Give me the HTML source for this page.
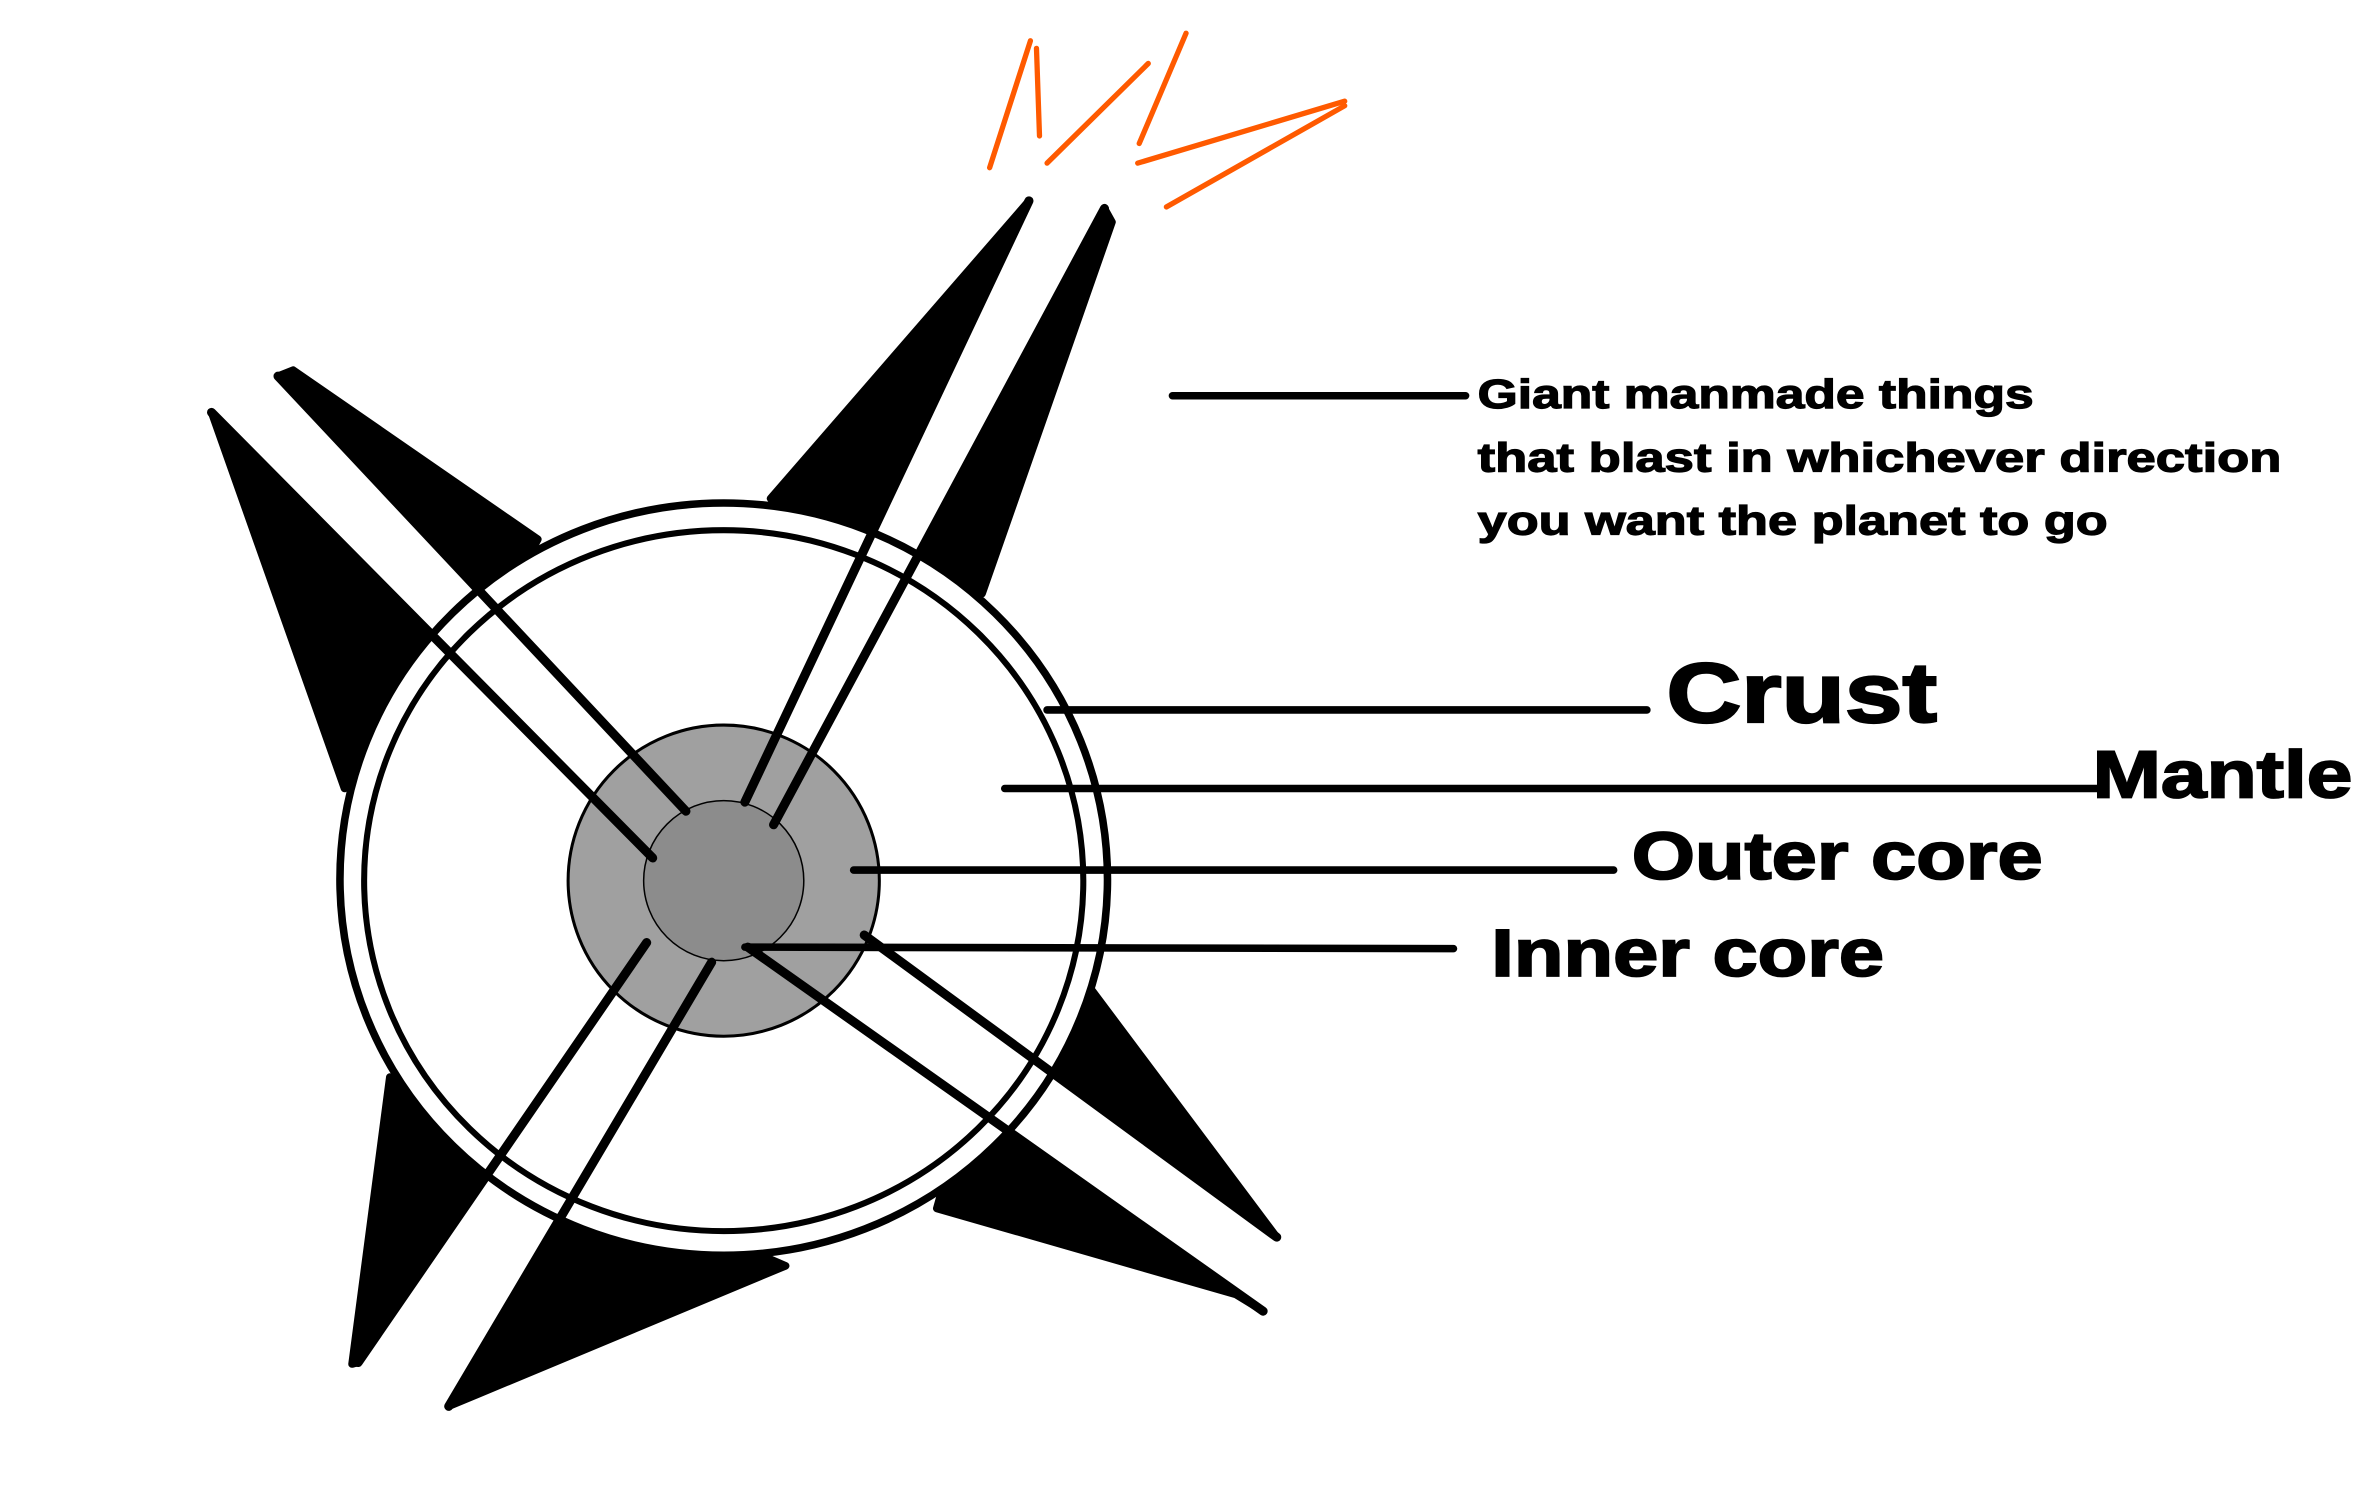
<!DOCTYPE html>
<html><head><meta charset="utf-8"><style>
html,body{margin:0;padding:0;background:#fff;}
svg{display:block;}
text{font-family:"Liberation Sans",sans-serif;font-weight:bold;fill:#000;stroke:#000;}
</style></head><body>
<svg width="2357" height="1503" viewBox="0 0 1560 995" preserveAspectRatio="none" xmlns="http://www.w3.org/2000/svg">
<rect width="1560" height="995" fill="#fff"/>
<g stroke="#ff5a00" stroke-width="3.5" stroke-linecap="round" fill="none">
<line x1="655" y1="111" x2="682" y2="27"/>
<line x1="686" y1="32" x2="688" y2="90"/>
<line x1="693" y1="108" x2="760" y2="42"/>
<line x1="754" y1="95" x2="785" y2="22"/>
<line x1="753" y1="108" x2="890" y2="67"/>
<line x1="890" y1="70" x2="772" y2="137"/>
</g>
<g fill="#000" stroke="#000" stroke-width="5" stroke-linejoin="round" stroke-linecap="round">
<polygon points="510,330 681,133 555,400"/>
<polygon points="731,138 736,147 650,393 580,420"/>
<polygon points="140,273 228,522 300,435"/>
<polygon points="184,249 194,245 356,357 330,405"/>
<polygon points="258,713 233,903 237,902 345,745"/>
<polygon points="297,931 520,838 386,780"/>
<polygon points="720,652 845,819 690,705"/>
<polygon points="620,800 818,857 836,868 640,729"/>
</g>
<ellipse cx="479" cy="582" rx="254" ry="249" fill="#fff" stroke="#000" stroke-width="5"/>
<ellipse cx="479" cy="583" rx="238" ry="232" fill="#fff" stroke="#000" stroke-width="4"/>
<circle cx="479" cy="583" r="103" fill="#a0a0a0" stroke="#000" stroke-width="2"/>
<circle cx="479" cy="583" r="53" fill="#8c8c8c" stroke="#000" stroke-width="1"/>
<g stroke="#000" stroke-width="6" stroke-linecap="round">
<line x1="681" y1="133" x2="493" y2="531"/>
<line x1="731" y1="138" x2="512" y2="546"/>
<line x1="140" y1="273" x2="432" y2="568"/>
<line x1="184" y1="249" x2="454" y2="537"/>
<line x1="428" y1="624" x2="237" y2="902"/>
<line x1="471" y1="637" x2="297" y2="931"/>
<line x1="572" y1="619" x2="845" y2="819"/>
<line x1="495" y1="627" x2="836" y2="868"/>
</g>
<g stroke="#000" stroke-width="5" stroke-linecap="round">
<line x1="776" y1="262" x2="970" y2="262"/>
<line x1="693" y1="470" x2="1090" y2="470"/>
<line x1="665" y1="522" x2="1388" y2="522"/>
<line x1="565" y1="576" x2="1068" y2="576"/>
<line x1="493" y1="627" x2="962" y2="628"/>
</g>
<text x="978" y="270" font-size="27" stroke-width="0.8" textLength="368" lengthAdjust="spacingAndGlyphs">Giant manmade things</text>
<text x="978" y="312" font-size="27" stroke-width="0.8" textLength="532" lengthAdjust="spacingAndGlyphs">that blast in whichever direction</text>
<text x="978" y="354" font-size="27" stroke-width="0.8" textLength="417" lengthAdjust="spacingAndGlyphs">you want the planet to go</text>
<text x="1103" y="478" font-size="56" stroke-width="1.5" textLength="179" lengthAdjust="spacingAndGlyphs">Crust</text>
<text x="1385" y="528" font-size="44" stroke-width="1.2" textLength="172" lengthAdjust="spacingAndGlyphs">Mantle</text>
<text x="1080" y="582" font-size="44" stroke-width="1.2" textLength="272" lengthAdjust="spacingAndGlyphs">Outer core</text>
<text x="987" y="646" font-size="44" stroke-width="1.2" textLength="260" lengthAdjust="spacingAndGlyphs">Inner core</text>
</svg>
</body></html>
